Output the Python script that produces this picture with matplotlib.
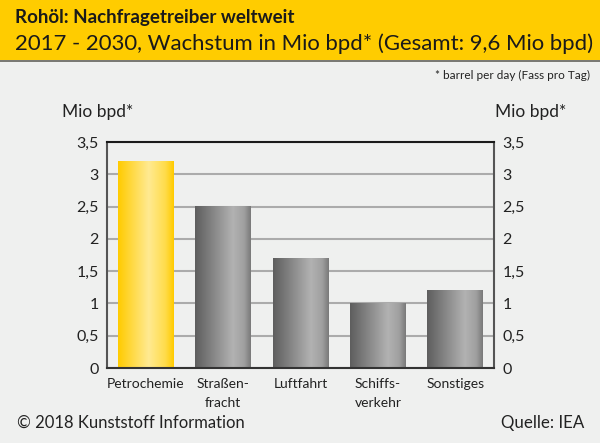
import numpy as np
import matplotlib.pyplot as plt
from matplotlib.colors import LinearSegmentedColormap
from matplotlib.ticker import FuncFormatter, MultipleLocator

# data
categories = ["Petrochemie", "Straßen-\nfracht", "Luftfahrt", "Schiffs-\nverkehr", "Sonstiges"]
values = [3.2, 2.5, 1.7, 1.0, 1.2]
highlight = [True, False, False, False, False]

title = "Rohöl: Nachfragetreiber weltweit"
subtitle = "2017 - 2030, Wachstum in Mio bpd* (Gesamt: 9,6 Mio bpd)"
footnote = "* barrel per day (Fass pro Tag)"
unit = "Mio bpd*"
copyright_txt = "© 2018 Kunststoff Information"
source_txt = "Quelle: IEA"

plt.rcParams["font.family"] = ["Lato", "DejaVu Sans"]

bg = "#eff0ef"
yellow_cm = LinearSegmentedColormap.from_list(
    "y", [(0, "#ffcb00"), (0.55, "#ffea92"), (0.85, "#ffdc4a"), (1, "#ffcb00")])
gray_cm = LinearSegmentedColormap.from_list(
    "g", [(0, "#5e5e5e"), (0.68, "#b2b2b2"), (0.88, "#a0a0a0"), (1, "#7a7a7a")])

fig = plt.figure(figsize=(6, 4.43), dpi=100, facecolor=bg)

# header band
fig.patches.append(plt.Rectangle((0, 1 - 60 / 443), 1, 60 / 443, transform=fig.transFigure,
                                 facecolor="#ffcc00", edgecolor="none", zorder=0))
fig.patches.append(plt.Rectangle((0, 1 - 62 / 443), 1, 2 / 443, transform=fig.transFigure,
                                 facecolor="#7a7a74", edgecolor="none", zorder=0))
fig.text(15 / 600, 1 - 18 / 443, title, fontsize=13.5, fontweight="bold", va="center", color="#1a1a1a")
fig.text(15 / 600, 1 - 44 / 443, subtitle, fontsize=15.9, va="center", color="#1a1a1a")
fig.text(590 / 600, 1 - 75 / 443, footnote, fontsize=8.5, ha="right", va="center", color="#222222")

ax = fig.add_axes([107 / 600, 1 - 368 / 443, 387 / 600, 226 / 443])
ax.set_facecolor(bg)

width = 0.72
grad = np.linspace(0, 1, 200).reshape(1, -1)
for i, (v, hl) in enumerate(zip(values, highlight)):
    ax.imshow(grad, cmap=yellow_cm if hl else gray_cm, aspect="auto", zorder=2,
              extent=[i - width / 2, i + width / 2, 0, v], interpolation="bilinear")
ax.set_xlim(-0.5, len(values) - 0.5)
ax.set_ylim(0, 3.5)

ax.yaxis.set_major_locator(MultipleLocator(0.5))
ax.yaxis.set_major_formatter(FuncFormatter(lambda y, _: f"{y:g}".replace(".", ",")))
ax.grid(axis="y", color="#ababab", linewidth=1.5, zorder=1)
ax.set_axisbelow(True)
ax.tick_params(axis="y", which="both", length=0, labelsize=11.5, labelcolor="#222222",
               left=True, right=True, labelleft=True, labelright=True, pad=6)
ax.set_xticks(range(len(categories)))
ax.set_xticklabels(categories, fontsize=10, color="#222222", linespacing=1.7)
ax.tick_params(axis="x", length=0, pad=7)

for side in ["left", "right"]:
    ax.spines[side].set_color("#555555")
    ax.spines[side].set_linewidth(1.5)
ax.spines["bottom"].set_color("#333333")
ax.spines["bottom"].set_linewidth(1.5)
ax.spines["top"].set_color("#1a1a1a")
ax.spines["top"].set_linewidth(1.5)

fig.text(62 / 600, 1 - 112 / 443, unit, fontsize=12.5, va="center", color="#222222")
fig.text(495 / 600, 1 - 112 / 443, unit, fontsize=12.5, va="center", color="#222222")

fig.text(17 / 600, 1 - 423 / 443, copyright_txt, fontsize=12, va="center", color="#222222")
fig.text(584 / 600, 1 - 423 / 443, source_txt, fontsize=12.2, ha="right", va="center", color="#222222")

fig.savefig("out.png", dpi=100, facecolor=bg)
